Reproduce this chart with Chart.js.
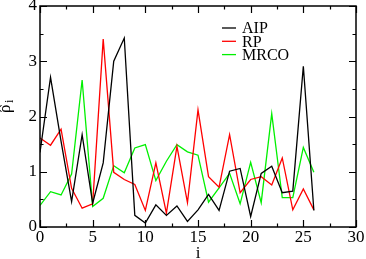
<!DOCTYPE html>
<html>
<head>
<meta charset="utf-8">
<script src="https://cdn.jsdelivr.net/npm/chart.js@4.4.0/dist/chart.umd.min.js"></script>
<style>
  html, body { margin: 0; padding: 0; background: #fff; }
  #wrap { width: 366px; height: 259px; }
</style>
</head>
<body>
<div id="wrap"><canvas id="rho-chart" width="366" height="259"></canvas></div>
<script>
const FONT = "Liberation Serif, Times New Roman, Times, serif";

const INDEX = [0, 1, 2, 3, 4, 5, 6, 7, 8, 9, 10, 11, 12, 13, 14, 15, 16, 17, 18, 19, 20, 21, 22, 23, 24, 25, 26];
const AIP = [1.35, 2.71, 1.55, 0.46, 1.67, 0.43, 1.16, 3.0, 3.42, 0.21, 0.07, 0.40, 0.21, 0.38, 0.10, 0.31, 0.59, 0.30, 1.01, 1.06, 0.19, 0.97, 1.10, 0.62, 0.65, 2.91, 0.30];
const RP = [1.61, 1.48, 1.77, 0.70, 0.34, 0.42, 3.40, 0.99, 0.86, 0.77, 0.30, 1.16, 0.25, 1.46, 0.44, 2.12, 0.91, 0.72, 1.67, 0.62, 0.86, 0.91, 0.76, 1.25, 0.31, 0.69, 0.31];
const MRCO = [0.39, 0.64, 0.58, 0.96, 2.66, 0.37, 0.52, 1.11, 0.98, 1.43, 1.49, 0.84, 1.19, 1.49, 1.36, 1.30, 0.45, 0.71, 0.97, 0.42, 1.17, 0.44, 2.05, 0.53, 0.53, 1.44, 0.99];

const SERIES_NAMES = ["AIP", "RP", "MRCO"];
const SERIES_COLORS = ["#000000", "#ff0000", "#00f000"];
const X_TICKS = [0, 5, 10, 15, 20, 25, 30];
const Y_TICKS = [0, 1, 2, 3, 4];

function points(values) {
    return values.map((v, k) => ({ x: INDEX[k], y: v }));
}

// frame, inward ticks, axis titles and legend
const decorations = {
    id: "decorations",
    afterDraw(chart) {
        const ctx = chart.ctx;
        const area = chart.chartArea;
        const xs = chart.scales.x;
        const ys = chart.scales.y;
        ctx.save();
        ctx.strokeStyle = "#000";
        ctx.lineWidth = 1.5;
        ctx.strokeRect(area.left, area.top, area.right - area.left, area.bottom - area.top);

        ctx.lineWidth = 1.2;
        ctx.beginPath();
        for (let v = 0; v <= 30; v += 2.5) {
            const px = Math.round(xs.getPixelForValue(v)) + 0.5;
            const len = (v % 5 === 0) ? 7 : 3.5;
            ctx.moveTo(px, area.bottom); ctx.lineTo(px, area.bottom - len);
            ctx.moveTo(px, area.top); ctx.lineTo(px, area.top + len);
        }
        for (let v = 0; v <= 4; v += 0.5) {
            const py = Math.round(ys.getPixelForValue(v)) + 0.5;
            const len = (v % 1 === 0) ? 7 : 3.5;
            ctx.moveTo(area.left, py); ctx.lineTo(area.left + len, py);
            ctx.moveTo(area.right, py); ctx.lineTo(area.right - len, py);
        }
        ctx.stroke();

        // x title
        ctx.fillStyle = "#000";
        ctx.font = "17px " + FONT;
        ctx.textAlign = "center";
        ctx.textBaseline = "alphabetic";
        ctx.fillText("i", (area.left + area.right) / 2, 258);

        // y title: rho hat, subscript i
        ctx.save();
        ctx.translate(10, 113);
        ctx.rotate(-Math.PI / 2);
        ctx.textAlign = "left";
        ctx.font = "17px " + FONT;
        ctx.fillText("ρ", 0, 0);
        ctx.lineWidth = 1;
        ctx.beginPath();
        ctx.moveTo(1, -8.5);
        ctx.lineTo(4.5, -11.5);
        ctx.lineTo(8, -8.5);
        ctx.stroke();
        ctx.font = "12px " + FONT;
        ctx.fillText("i", 10, 3);
        ctx.restore();

        // legend
        ctx.font = "16px " + FONT;
        ctx.textAlign = "left";
        ctx.textBaseline = "middle";
        chart.data.datasets.forEach((ds, k) => {
            const y = 28 + 13.3 * k;
            ctx.strokeStyle = ds.borderColor;
            ctx.lineWidth = 1.3;
            ctx.beginPath();
            ctx.moveTo(222, y);
            ctx.lineTo(236, y);
            ctx.stroke();
            ctx.fillStyle = "#000";
            ctx.fillText(ds.label, 242, y + 1);
        });
        ctx.restore();
    }
};

const ctx = document.querySelector("#rho-chart").getContext("2d");
const configuration = {
    type: "line",
    data: {
        datasets: [
            { label: SERIES_NAMES[0], data: points(AIP), borderColor: SERIES_COLORS[0] },
            { label: SERIES_NAMES[1], data: points(RP), borderColor: SERIES_COLORS[1] },
            { label: SERIES_NAMES[2], data: points(MRCO), borderColor: SERIES_COLORS[2] }
        ]
    },
    options: {
        responsive: false,
        animation: false,
        devicePixelRatio: 1,
        layout: { padding: { top: 6, right: 10, left: 0, bottom: 0 } },
        elements: {
            line: { borderWidth: 1.3, tension: 0, fill: false },
            point: { radius: 0, hoverRadius: 0 }
        },
        scales: {
            x: {
                type: "linear",
                min: 0,
                max: 30,
                afterBuildTicks: (scale) => { scale.ticks = X_TICKS.map(v => ({ value: v })); },
                afterFit: (scale) => { scale.height = 32; scale.paddingLeft = 0; scale.paddingRight = 0; },
                ticks: { color: "#000", font: { family: FONT, size: 17 }, padding: 0, maxRotation: 0 },
                grid: { display: false, drawTicks: false },
                border: { display: false }
            },
            y: {
                min: 0,
                max: 4,
                afterBuildTicks: (scale) => { scale.ticks = Y_TICKS.map(v => ({ value: v })); },
                afterFit: (scale) => { scale.width = 40; scale.paddingTop = 0; scale.paddingBottom = 0; },
                ticks: { color: "#000", font: { family: FONT, size: 17 }, padding: 3 },
                grid: { display: false, drawTicks: false },
                border: { display: false }
            }
        },
        plugins: {
            legend: { display: false },
            tooltip: { enabled: false }
        }
    },
    plugins: [decorations]
};
new Chart(ctx, configuration);
</script>
</body>
</html>
